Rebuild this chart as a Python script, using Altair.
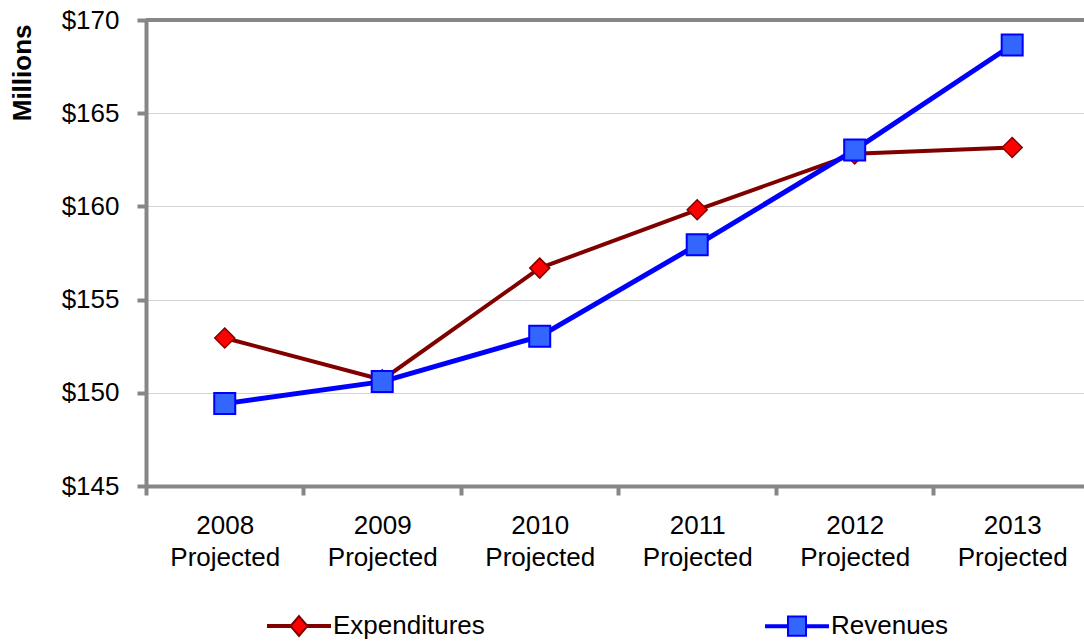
import json

import altair as alt
import pandas as pd

# Budget projection, values in millions of dollars
years = ["2008", "2009", "2010", "2011", "2012", "2013"]
period = "Projected"
expenditures = [152.94, 150.70, 156.69, 159.82, 162.82, 163.16]
revenues = [149.42, 150.60, 153.03, 157.94, 163.03, 168.66]
series_names = ["Expenditures", "Revenues"]
y_ticks = [145, 150, 155, 160, 165, 170]

rows = []
for i, yr in enumerate(years):
    rows.append({"idx": i, "year": yr, "series": series_names[0], "value": expenditures[i]})
    rows.append({"idx": i, "year": yr, "series": series_names[1], "value": revenues[i]})
df = pd.DataFrame(rows)

FONT = "Liberation Sans"
AXIS_GRAY = "#868686"
EXP_LINE, EXP_FILL = "#800000", "#ff0000"
REV_LINE, REV_FILL = "#0000ff", "#3366ff"

W, H = 938, 466
x_max = 5.456
step = W / (x_max + 0.5)

# category labels sit half a step right of the boundary ticks
label_list = [[yr, period] for yr in years]
x_label_expr = json.dumps(label_list) + "[round(datum.value + 0.5)]"
x_tick_values = [i - 0.5 for i in range(len(years))]

x_enc = alt.X(
    "idx:Q",
    scale=alt.Scale(domain=[-0.5, x_max], nice=False, zero=False),
    axis=alt.Axis(
        values=x_tick_values,
        labelExpr=x_label_expr,
        labelOffset=step / 2,
        labelFlush=False,
        labelOverlap=False,
        labelAlign="center",
        labelBaseline="top",
        labelLineHeight=32,
        labelPadding=17,
        grid=False,
        title=None,
    ),
)
y_enc = alt.Y(
    "value:Q",
    scale=alt.Scale(domain=[y_ticks[0], y_ticks[-1]], nice=False, zero=False),
    axis=alt.Axis(
        values=y_ticks,
        format="$.0f",
        labelPadding=18,
        grid=True,
        title="Millions",
        titleAngle=270,
        titleX=-124,
        titleY=4,
        titleAlign="right",
        titleBaseline="middle",
        titleFont=FONT,
        titleFontSize=26,
        titleFontWeight="bold",
        titleColor="black",
    ),
)

base = alt.Chart(df)

top_border = base.mark_rule(color=AXIS_GRAY, strokeWidth=4).encode(y=alt.datum(y_ticks[-1]))

exp_data = base.transform_filter(alt.datum.series == series_names[0])
rev_data = base.transform_filter(alt.datum.series == series_names[1])

exp_line = exp_data.mark_line(color=EXP_LINE, strokeWidth=4).encode(x=x_enc, y=y_enc)
exp_pts = exp_data.mark_point(
    shape="diamond", filled=True, fill=EXP_FILL, stroke=EXP_LINE,
    strokeWidth=1.5, size=400, opacity=1,
).encode(x=x_enc, y=y_enc)

rev_line = rev_data.mark_line(color=REV_LINE, strokeWidth=5).encode(x=x_enc, y=y_enc)
rev_pts = rev_data.mark_point(
    shape="square", filled=True, fill=REV_FILL, stroke=REV_LINE,
    strokeWidth=2, size=441, opacity=1,
).encode(x=x_enc, y=y_enc)

# legend symbols: a short line with the series marker in the middle
exp_symbol = (
    "M-1,-0.032H-0.274V0.032H-1Z"
    "M0.274,-0.032H1V0.032H0.274Z"
    "M0,-0.32L0.274,0L0,0.32L-0.274,0Z"
)
rev_symbol = (
    "M-1,-0.032H-0.29V0.032H-1Z"
    "M0.29,-0.032H1V0.032H0.29Z"
    "M-0.29,-0.31H0.29V0.31H-0.29Z"
)

legend = alt.Legend(
    title=None,
    orient="none",
    legendX=121,
    legendY=574,
    direction="horizontal",
    symbolSize=3844,
    symbolStrokeWidth=2,
    labelOffset=2,
    columnPadding=277,
    labelFont=FONT,
    labelFontSize=26,
    labelColor="black",
    labelLimit=400,
    padding=0,
)

legend_layer = base.transform_filter("false").mark_point(
    filled=True, opacity=1, size=3844, strokeWidth=2
).encode(
    x=x_enc,
    y=y_enc,
    shape=alt.Shape("series:N", scale=alt.Scale(domain=series_names, range=[exp_symbol, rev_symbol]), legend=legend),
    fill=alt.Fill("series:N", scale=alt.Scale(domain=series_names, range=[EXP_FILL, REV_FILL]), legend=legend),
    stroke=alt.Stroke("series:N", scale=alt.Scale(domain=series_names, range=[EXP_LINE, REV_LINE]), legend=legend),
)

chart = (
    alt.layer(top_border, exp_line, exp_pts, rev_line, rev_pts, legend_layer)
    .properties(
        width=W,
        height=H,
        autosize=alt.AutoSizeParams(type="none"),
        padding={"left": 146, "top": 20, "right": 0, "bottom": 157},
        background="white",
    )
    .configure_view(stroke=None)
    .configure_axis(
        domainColor=AXIS_GRAY,
        domainWidth=4,
        tickColor=AXIS_GRAY,
        tickWidth=4,
        tickSize=9,
        gridColor="#d4d4d4",
        gridWidth=1,
        labelFont=FONT,
        labelFontSize=26,
        labelColor="black",
    )
)

chart.save("out.html", embed_options={"renderer": "svg", "actions": False})
